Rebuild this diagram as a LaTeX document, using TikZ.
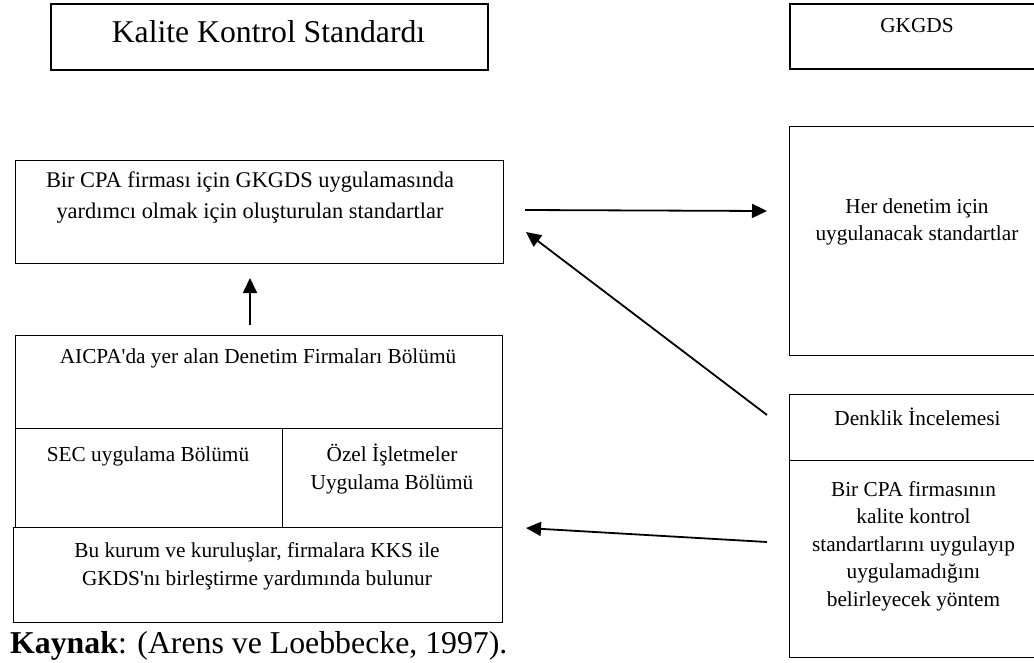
\documentclass[tikz,border=0pt]{standalone}
\usepackage{fontspec}
\setmainfont{Liberation Serif}
\usetikzlibrary{arrows.meta}
\begin{document}
\begin{tikzpicture}[x=1pt,y=-1pt,
  box/.style={draw, line width=1.2pt, inner sep=0pt, anchor=north west},
  thickbox/.style={box, line width=1.7pt},
  txt/.style={font=\fontsize{21.3}{28}\selectfont, align=center, inner sep=0pt},
  conn/.style={line width=1.8pt, -{Triangle[length=15pt,width=14pt]}}]
\useasboundingbox (0,0) rectangle (1034,662);
\clip (0,0) rectangle (1034,662);

% boxes
\node[thickbox, minimum width=437pt, minimum height=66pt] (kks) at (50,3) {};
\node[thickbox, minimum width=256pt, minimum height=65pt] (gk) at (789,3) {};
\node[box, minimum width=488pt, minimum height=103pt] (bir) at (15,160) {};
\node[box, minimum width=256pt, minimum height=229pt] (her) at (789,126) {};
\node[box, minimum width=487pt, minimum height=93pt] (aic) at (15,335) {};
\node[box, minimum width=267pt, minimum height=99pt] (sec) at (15,428) {};
\node[box, minimum width=220pt, minimum height=99pt] (oze) at (282,428) {};
\node[box, minimum width=489pt, minimum height=95pt] (bu) at (13,527) {};
\node[box, minimum width=256pt, minimum height=66pt] (den) at (789,394) {};
\node[box, minimum width=256pt, minimum height=197pt] (bcp) at (789,460) {};

% texts
\node[txt, font=\fontsize{31.7}{38}\selectfont] (kkst) at (268.5,32) {Kalite Kontrol Standardı};
\node[txt] (gkt) at (917,26) {GKGDS};
\node[txt, font=\fontsize{22.4}{31}\selectfont] (birt) at (250,198) {Bir CPA firması için GKGDS uygulamasında\\yardımcı olmak için oluşturulan standartlar};
\node[txt] (aict) at (258,358) {AICPA\textquotesingle da yer alan Denetim Firmaları Bölümü};
\node[txt] (sect) at (148,456) {SEC uygulama Bölümü};
\node[txt] (ozet) at (392,469) {Özel İşletmeler\\Uygulama Bölümü};
\node[txt] (but) at (257,566) {Bu kurum ve kuruluşlar, firmalara KKS ile\\GKDS\textquotesingle nı birleştirme yardımında bulunur};
\node[txt, font=\fontsize{21.3}{27}\selectfont] (hert) at (917,222) {Her denetim için\\uygulanacak standartlar};
\node[txt] (dent) at (917.5,417) {Denklik İncelemesi};
\node[txt, font=\fontsize{21.3}{27.5}\selectfont] (bcpt) at (913.5,546) {Bir CPA firmasının\\kalite kontrol\\standartlarını uygulayıp\\uygulamadığını\\belirleyecek yöntem};
\node[inner sep=0pt, anchor=base west, font=\fontsize{31.8}{38}\selectfont] (kay) at (10,653) {\textbf{Kaynak}: (Arens ve Loebbecke, 1997).};

% connector ends
\coordinate (a1s) at (525,210);
\coordinate (a1e) at (767,211);
\coordinate (a2s) at (250,325);
\coordinate (a2e) at (250,278);
\coordinate (a3s) at (767,415);
\coordinate (a3e) at (526,232);
\coordinate (a4s) at (767,542);
\coordinate (a4e) at (526,528);

\draw[conn] (a1s) -- (a1e);
\draw[conn] (a2s) -- (a2e);
\draw[conn] (a3s) -- (a3e);
\draw[conn] (a4s) -- (a4e);
\end{tikzpicture}
\end{document}
